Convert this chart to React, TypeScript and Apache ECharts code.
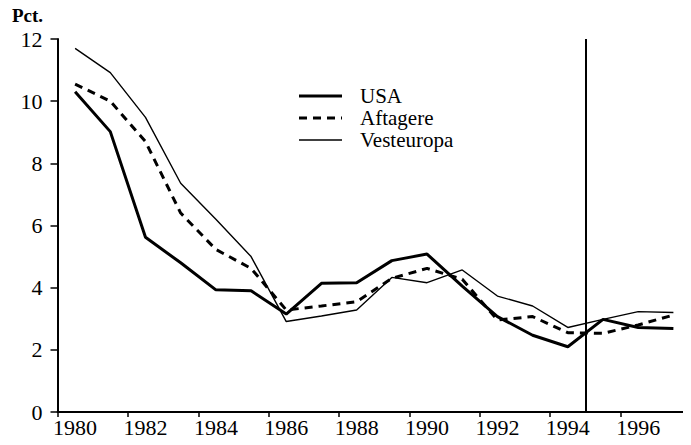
import React, { useEffect, useRef } from "react";
import * as echarts from "echarts";

const years = ["1980","1981","1982","1983","1984","1985","1986","1987","1988","1989","1990","1991","1992","1993","1994","1995","1996","1997"];
const usa = [10.3, 9.02, 5.62, 4.8, 3.93, 3.9, 3.15, 4.14, 4.16, 4.87, 5.08, 4.05, 3.07, 2.47, 2.1, 2.98, 2.72, 2.69];
const aftagere = [10.55, 10.0, 8.7, 6.4, 5.23, 4.62, 3.28, 3.41, 3.55, 4.3, 4.62, 4.27, 2.96, 3.07, 2.55, 2.53, 2.8, 3.12];
const vesteuropa = [11.7, 10.92, 9.48, 7.36, 6.2, 5.0, 2.91, 3.09, 3.28, 4.33, 4.16, 4.57, 3.73, 3.41, 2.72, 2.98, 3.23, 3.2];
const seriesNames = ["USA", "Aftagere", "Vesteuropa"];
const boundaryYear = 1994.5;
const unitLabel = "Pct.";

const FONT = "Liberation Serif";

export default function App() {
  const ref = useRef<HTMLDivElement>(null);
  useEffect(() => {
    if (!ref.current) return;
    const chart = echarts.init(ref.current, undefined, { renderer: "svg" });
    const legendStyles = [
      { lineWidth: 3, lineDash: null as any },
      { lineWidth: 3, lineDash: [8, 6] },
      { lineWidth: 1.4, lineDash: null as any },
    ];
    const legendY = [96, 118, 140];
    const legendGraphics: any[] = [];
    seriesNames.forEach((name, i) => {
      legendGraphics.push({
        type: "line",
        shape: { x1: 299, y1: legendY[i], x2: 342, y2: legendY[i] },
        style: { stroke: "#000", lineWidth: legendStyles[i].lineWidth, lineDash: legendStyles[i].lineDash },
      });
      legendGraphics.push({
        type: "text",
        x: 360,
        y: legendY[i],
        style: { text: name, fill: "#000", font: `21px "${FONT}"`, verticalAlign: "middle", align: "left" },
      });
    });
    chart.setOption({
      animation: false,
      backgroundColor: "#fff",
      grid: { left: 57.5, top: 39, right: 0, bottom: 33, containLabel: false },
      xAxis: [
        {
          type: "category",
          data: years,
          boundaryGap: true,
          axisLine: { show: true, lineStyle: { color: "#000", width: 1.8 } },
          axisTick: { show: true, interval: 1, length: 5, lineStyle: { color: "#000", width: 1.5 } },
          axisLabel: { interval: 1, color: "#000", fontFamily: FONT, fontSize: 22, margin: 4, lineHeight: 22 },
          splitLine: { show: false },
        },
        {
          type: "value",
          min: 1979.5,
          max: 1997.5,
          show: false,
          splitLine: { show: false },
        },
      ],
      yAxis: {
        type: "value",
        min: 0,
        max: 12,
        interval: 2,
        axisLine: { show: true, lineStyle: { color: "#000", width: 2 } },
        axisTick: { show: true, length: 7, lineStyle: { color: "#000", width: 1.5 } },
        axisLabel: { color: "#000", fontFamily: FONT, fontSize: 22, margin: 15 },
        splitLine: { show: false },
      },
      series: [
        {
          name: seriesNames[0],
          type: "line",
          data: usa,
          symbol: "none",
          lineStyle: { color: "#000", width: 3 },
        },
        {
          name: seriesNames[1],
          type: "line",
          data: aftagere,
          symbol: "none",
          lineStyle: { color: "#000", width: 3, type: [8, 6] },
        },
        {
          name: seriesNames[2],
          type: "line",
          data: vesteuropa,
          symbol: "none",
          lineStyle: { color: "#000", width: 1.4 },
        },
        {
          type: "line",
          xAxisIndex: 1,
          data: [],
          symbol: "none",
          markLine: {
            silent: true,
            symbol: "none",
            label: { show: false },
            lineStyle: { color: "#000", width: 2, type: "solid" },
            data: [{ xAxis: boundaryYear }],
          },
        },
      ],
      graphic: [
        {
          type: "text",
          left: 12,
          top: 6,
          style: { text: unitLabel, fill: "#000", font: `bold 19px "${FONT}"` },
        },
        ...legendGraphics,
      ],
    });
    return () => chart.dispose();
  }, []);
  return <div ref={ref} style={{ width: 691, height: 445, margin: -8 }} />;
}
